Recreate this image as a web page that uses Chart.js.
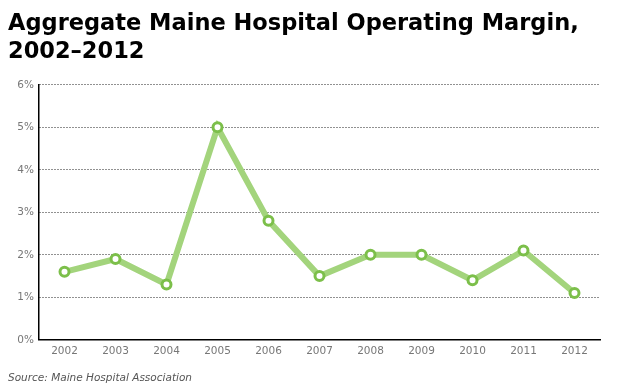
<!DOCTYPE html>
<html>
<head>
<meta charset="utf-8">
<script src="https://cdn.jsdelivr.net/npm/chart.js@4.4.0/dist/chart.umd.min.js"></script>
<style>
  html, body { margin: 0; padding: 0; background: #fff; }
  #wrap { width: 624px; height: 390px; position: relative; }
</style>
</head>
<body>
<div id="wrap"><canvas id="chart"></canvas></div>
<script>
// chart data
const years = ["2002", "2003", "2004", "2005", "2006", "2007", "2008", "2009", "2010", "2011", "2012"];
const margins = [1.6, 1.9, 1.3, 5.0, 2.8, 1.5, 2.0, 2.0, 1.4, 2.1, 1.1];
const yTicks = [0, 1, 2, 3, 4, 5, 6];

const titleLines = ["Aggregate Maine Hospital Operating Margin,", "2002\u20132012"];
const sourceText = "Source: Maine Hospital Association";

const ctx = document.getElementById("chart").getContext("2d");

new Chart(ctx, {
  type: "line",
  data: {
    labels: years,
    datasets: [{
      label: "Operating margin",
      data: margins,
      borderColor: "#a3d47c",
      borderWidth: 6,
      pointRadius: 4.5,
      pointBorderWidth: 3,
      pointBorderColor: "#7cbf4a",
      pointBackgroundColor: "#ffffff",
      tension: 0,
      fill: false,
    }]
  },
  options: {
    responsive: true,
    maintainAspectRatio: false,
    animation: false,
    layout: {
      padding: { left: 8, right: 24, top: 0, bottom: 0 }
    },
    plugins: {
      legend: { display: false },
      tooltip: { enabled: false },
      title: {
        display: true,
        text: titleLines,
        align: "start",
        color: "#000",
        font: { family: "'DejaVu Sans'", size: 22.5, weight: "bold", lineHeight: 1.24 },
        padding: { top: 10, bottom: 19 }
      },
      subtitle: {
        display: true,
        text: sourceText,
        position: "bottom",
        align: "start",
        color: "#555",
        font: { family: "'DejaVu Sans'", size: 10.5, style: "italic" },
        padding: { top: 10, bottom: 5 }
      }
    },
    scales: {
      x: {
        offset: true,
        grid: {
          display: true,
          drawOnChartArea: false,
          drawTicks: false,
          color: "rgba(0,0,0,0)"
        },
        border: { display: true, color: "#000", width: 1.5 },
        ticks: {
          color: "#777",
          font: { family: "'DejaVu Sans'", size: 10.5 },
          padding: 5
        }
      },
      y: {
        min: 0,
        max: 6,
        afterBuildTicks(scale) {
          scale.ticks = yTicks.map(v => ({ value: v }));
        },
        afterFit(scale) {
          scale.width = 31;
        },
        grid: {
          color: "#222",
          lineWidth: 1,
          drawTicks: false
        },
        border: { display: true, color: "#000", width: 1.5, dash: [1, 2] },
        ticks: {
          color: "#777",
          font: { family: "'DejaVu Sans'", size: 10.5 },
          padding: 5,
          callback: v => v + "%"
        }
      }
    }
  }
});
</script>
</body>
</html>
